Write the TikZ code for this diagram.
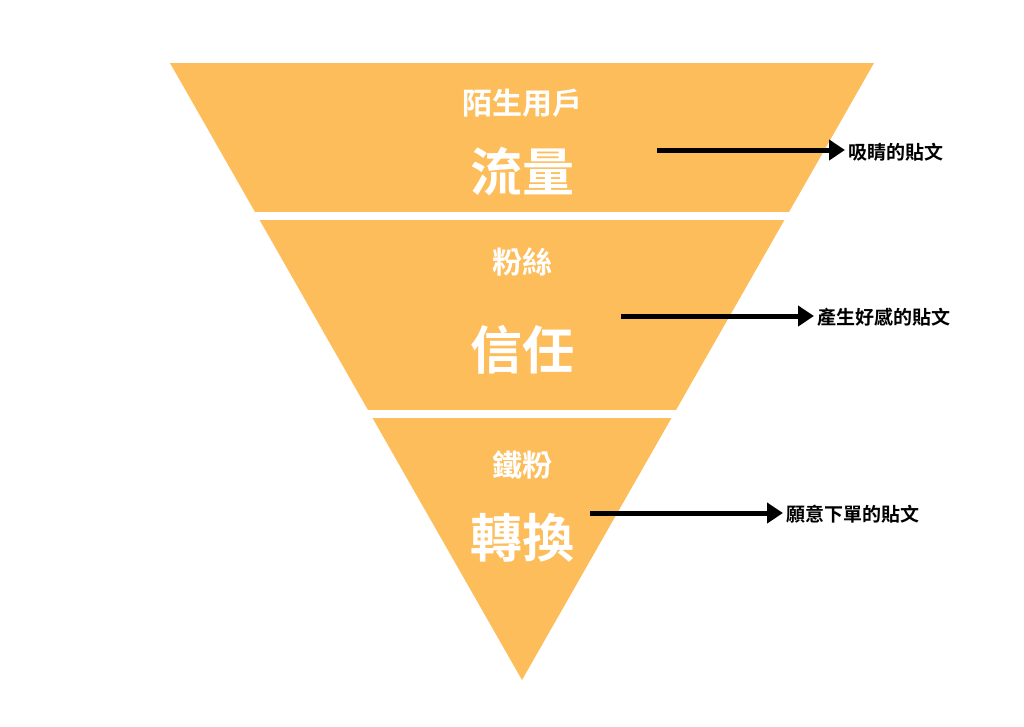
\documentclass[tikz,border=0pt]{standalone}
\usepackage{fontspec}
\newfontfamily\cjk{Noto Sans CJK TC Bold}
\usepackage{tikz}
\usetikzlibrary{arrows.meta,positioning}
\definecolor{funnel}{HTML}{FDBD5B}
\tikzset{
  small/.style={text=white,font=\cjk\fontsize{30}{32}\selectfont},
  big/.style={text=white,font=\cjk\fontsize{52}{54}\selectfont},
  post/.style={anchor=west,font=\cjk\fontsize{19}{21}\selectfont},
  pointer/.style={line width=5pt,-{Triangle[length=16pt,width=20pt]}},
}
\begin{document}
\begin{tikzpicture}[x=1pt,y=-1pt]
  \useasboundingbox (0,0) rectangle (1024,726);
  % funnel with white gaps
  \fill[funnel] (170,63) -- (874,63) -- (522,680) -- cycle;
  \fill[white] (150,212) rectangle (900,220);
  \fill[white] (150,410) rectangle (900,418);
  % band texts
  \node[small] (stranger) at (522,103) {陌生用戶};
  \node[big] (traffic) at (522,172) {流量};
  \node[small] (fans) at (522,262) {粉絲};
  \node[big] (trust) at (522,350) {信任};
  \node[small] (loyal) at (522,465) {鐵粉};
  \node[big] (convert) at (522,538) {轉換};
  % posts on the right
  \node[post] (eye) at (845,152) {吸睛的貼文};
  \node[post] (like) at (814,317) {產生好感的貼文};
  \node[post] (buy) at (783,514) {願意下單的貼文};
  \coordinate (a1) at (657,150);
  \coordinate (a2) at (621,316);
  \coordinate (a3) at (590,513);
  \draw[pointer] (a1) -- (eye.west |- a1);
  \draw[pointer] (a2) -- (like.west |- a2);
  \draw[pointer] (a3) -- (buy.west |- a3);
\end{tikzpicture}
\end{document}
